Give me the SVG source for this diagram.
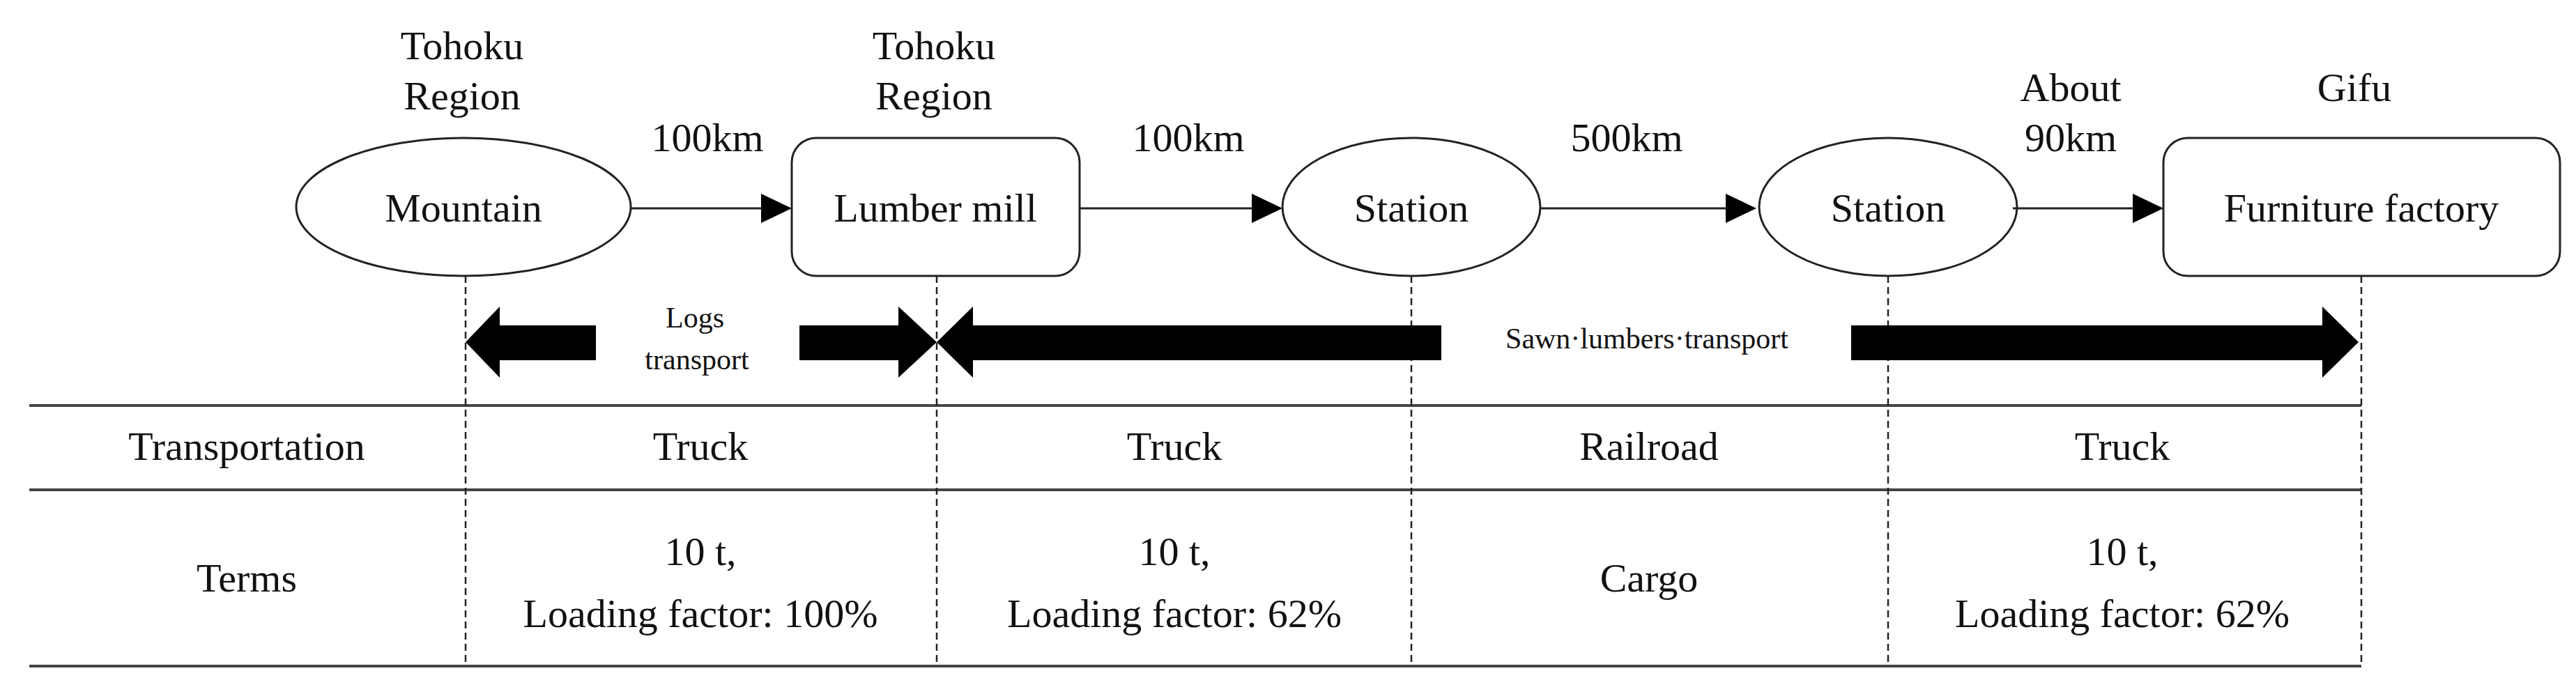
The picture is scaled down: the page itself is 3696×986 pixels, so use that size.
<svg xmlns="http://www.w3.org/2000/svg" width="3696" height="986" viewBox="0 0 3696 986">
<style>
text{font-family:"Liberation Serif",serif;font-size:58px;fill:#111;text-anchor:middle}
.s{font-size:42px}
.n{fill:#fff;stroke:#222;stroke-width:3}
.c{stroke:#222;stroke-width:3;fill:none}
.d{stroke:#222;stroke-width:2.5;stroke-dasharray:10,6;fill:none}
.t{stroke:#444;stroke-width:4;fill:none}
</style>
<defs><marker id="ah" markerWidth="12" markerHeight="12" refX="11" refY="6" orient="auto" markerUnits="userSpaceOnUse" viewBox="0 0 12 12"><path d="M0,0L12,6L0,12z" fill="#000"/></marker>
<marker id="a" viewBox="0 0 10 10" refX="10" refY="5" markerWidth="44" markerHeight="44" markerUnits="userSpaceOnUse" orient="auto"><path d="M0,0L10,5L0,10z" fill="#000"/></marker></defs>
<g id="table">
<path class="t" d="M42,582H3388M42,703H3388M42,956H3388"/>
<path class="d" d="M668,396V956M1344,396V956M2025,396V956M2709,396V956M3388,396V956"/>
<text x="354" y="660">Transportation</text>
<text x="1005" y="660">Truck</text><text x="1685" y="660">Truck</text><text x="2366" y="660">Railroad</text><text x="3045" y="660">Truck</text>
<text x="354" y="849">Terms</text>
<text x="1005" y="811">10 t,</text><text x="1005" y="900">Loading factor: 100%</text>
<text x="1685" y="811">10 t,</text><text x="1685" y="900">Loading factor: 62%</text>
<text x="2366" y="849">Cargo</text>
<text x="3045" y="811">10 t,</text><text x="3045" y="900">Loading factor: 62%</text>
</g>
<g id="mountain"><ellipse class="n" cx="665" cy="297" rx="240" ry="99"/><text x="665" y="318">Mountain</text><text x="663" y="85">Tohoku</text><text x="663" y="157">Region</text></g>
<g id="lumbermill"><rect class="n" x="1136" y="198" width="413" height="198" rx="35"/><text x="1342" y="318">Lumber mill</text><text x="1340" y="85">Tohoku</text><text x="1340" y="157">Region</text></g>
<g id="station1"><ellipse class="n" cx="2025" cy="297" rx="185" ry="99"/><text x="2025" y="318">Station</text></g>
<g id="station2"><ellipse class="n" cx="2709" cy="297" rx="185" ry="99"/><text x="2709" y="318">Station</text></g>
<g id="factory"><rect class="n" x="3104" y="198" width="569" height="198" rx="35"/><text x="3388" y="318">Furniture factory</text><text x="3378" y="145">Gifu</text></g>
<g id="connectors">
<path class="c" d="M906,299H1092"/><path d="M1092,278L1136,299L1092,320z"/>
<path class="c" d="M1549,299H1806"/><path d="M1796,278L1840,299L1796,320z"/>
<path class="c" d="M2210,299H2476"/><path d="M2476,278L2520,299L2476,320z"/>
<path class="c" d="M2888,299H3060"/><path d="M3060,278L3104,299L3060,320z"/>
<text x="1015" y="217">100km</text><text x="1705" y="217">100km</text><text x="2334" y="217">500km</text>
<text x="2971" y="145">About</text><text x="2971" y="217">90km</text>
<path d="M668,491L717,440V467H855V517H717V542z"/>
<path d="M1147,467H1289V440L1344,491L1289,542V517H1147z"/>
<path d="M1344,491L1396,440V467H2068V517H1396V542z"/>
<path d="M2656,467H3332V440L3384,491L3332,542V517H2656z"/>
<text class="s" x="997" y="470">Logs</text><text class="s" x="1000" y="530">transport</text>
<text class="s" x="2363" y="500">Sawn·lumbers·transport</text>
</g>
</svg>
